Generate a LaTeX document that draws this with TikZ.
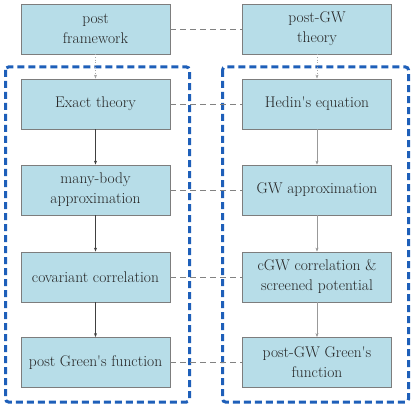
\documentclass[tikz,border=0pt]{standalone}
\usepackage{fontspec}
\usetikzlibrary{arrows.meta}
\definecolor{boxfill}{RGB}{183,221,232}
\definecolor{boxline}{RGB}{125,125,125}
\definecolor{frameblue}{RGB}{30,95,185}
\definecolor{linkgray}{RGB}{130,130,130}
\newcommand{\apos}{\textquotesingle}
\begin{document}
\begin{tikzpicture}[x=1pt,y=-1pt,
  box/.style={draw=boxline,fill=boxfill,line width=0.8pt,minimum width=149pt,minimum height=50pt,inner sep=0pt,align=center,text=black!85,font=\rmfamily\fontsize{15.5}{20}\selectfont},
  flow/.style={draw=black!75,line width=0.5pt,-{Stealth[length=4pt,width=3pt]}},
  flowdot/.style={draw=black!35,line width=0.6pt,dotted,-{Stealth[length=4pt,width=3pt]}},
  link/.style={draw=linkgray,line width=0.8pt,dash pattern=on 6pt off 4pt},
  frame/.style={draw=frameblue,line width=3pt,dash pattern=on 7pt off 4pt,rounded corners=3pt}]
\useasboundingbox (0,0) rectangle (415,409);
\node[box] (l1) at (95.5,29) {post\\framework};
\node[box] (r1) at (317,29) {post-GW\\theory};
\node[box] (l2) at (95.5,104) {Exact theory};
\node[box] (r2) at (317,104) {Hedin\apos s equation};
\node[box] (l3) at (95.5,190) {many-body\\approximation};
\node[box] (r3) at (317,190) {GW approximation};
\node[box] (l4) at (95.5,277) {covariant correlation};
\node[box] (r4) at (317,277) {cGW correlation \&\\screened potential};
\node[box] (l5) at (95.5,362.5) {post Green\apos s function};
\node[box] (r5) at (317,362.5) {post-GW Green\apos s\\function};
\draw[frame] (5.5,67) rectangle (189.5,402);
\draw[frame] (222.5,67) rectangle (408.5,402);
\draw[flowdot] (l1) -- (l2);
\draw[flowdot] (r1) -- (r2);
\draw[flow] (l2) -- (l3);
\draw[flow] (l3) -- (l4);
\draw[flow] (l4) -- (l5);
\draw[flow,draw=black!40] (r2) -- (r3);
\draw[flow,draw=black!40] (r3) -- (r4);
\draw[flow,draw=black!40] (r4) -- (r5);
\foreach \i in {1,...,5} \draw[link] (l\i) -- (r\i);
\end{tikzpicture}
\end{document}
